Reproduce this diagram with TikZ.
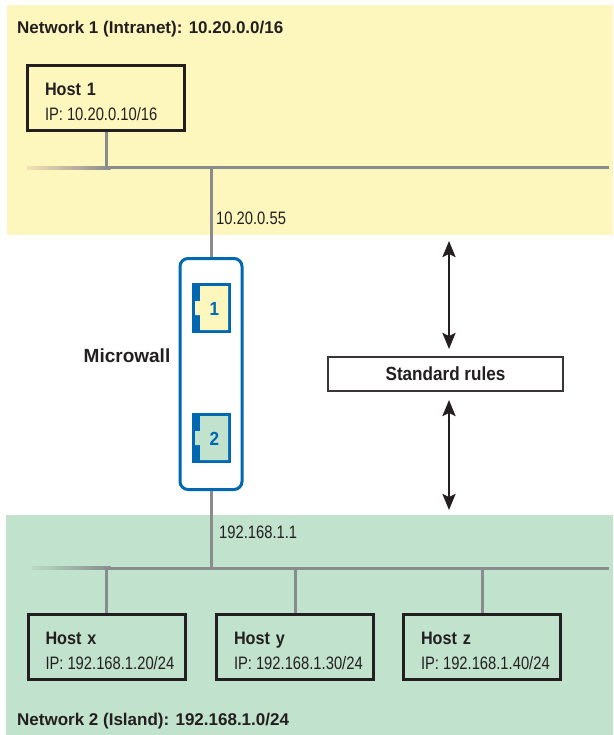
\documentclass[tikz,border=0pt]{standalone}
\usepackage{fontspec}
\setmainfont{Liberation Sans}
\newfontfamily\condfont{Liberation Sans}[FakeStretch=0.82]
\newfontfamily\bcondfont{Liberation Sans Bold}[FakeStretch=0.9]
\usetikzlibrary{arrows.meta,calc}
\definecolor{yel}{HTML}{FEF7BD}
\definecolor{grn}{HTML}{C1E2CC}
\definecolor{mwblue}{HTML}{0067B1}
\definecolor{netgray}{HTML}{898B8E}
\definecolor{ink}{HTML}{231F20}
\definecolor{fadeY}{HTML}{F5E2B4}
\definecolor{fadeG}{HTML}{B8D9C6}
\newcommand\mwport[4]{%
  \begin{scope}[shift={(#1,#2)}]
    \node[fill=mwblue, minimum width=39pt, minimum height=50pt, inner sep=0pt] (#4box) at (0,0) {};
    \fill[#3] (-11.5,-22) -- (16.5,-22) -- (16.5,22) -- (-11.5,22) -- (-11.5,7) -- (-16.5,7) -- (-16.5,-7) -- (-11.5,-7) -- cycle;
    \node[portdigit] (#4) at (3,1) {#4};
  \end{scope}}
\newcommand\hosttext[2]{{\bcondfont\fontsize{18}{20}\selectfont\rule{0pt}{20pt}#1}\\{\condfont\fontsize{18}{20}\selectfont\makebox[122pt][l]{IP:\kern4pt #2}}}
\begin{document}
\begin{tikzpicture}[x=1pt,y=-1pt,
  bus/.style={draw=netgray, line width=3pt},
  hostbox/.style={draw=ink, line width=3pt, minimum width=157pt, minimum height=65pt,
    inner sep=0pt, text width=122pt, align=left, text=ink, font=\fontsize{18}{25}\selectfont},
  boldlbl/.style={font=\bfseries\fontsize{17}{20}\selectfont, text=ink, inner sep=0pt},
  addrlbl/.style={font=\condfont\fontsize{18}{20}\selectfont, text=ink, inner sep=0pt, anchor=west},
  portdigit/.style={font=\bcondfont\fontsize{19}{20}\selectfont, text=mwblue, inner sep=0pt},
  dblarrow/.style={draw=ink, line width=2.5pt, {Stealth[length=16pt,width=13pt,inset=3pt]}-{Stealth[length=16pt,width=13pt,inset=3pt]}}
]
\useasboundingbox (0,0) rectangle (613,735);
% backgrounds
\fill[yel] (7,5) rectangle (613,235);
\fill[grn] (6,515) rectangle (613,735);

% network 1
\node[boldlbl, anchor=west] (net1lbl) at (17,29) {Network 1 (Intranet): 10.20.0.0/16};
\node[hostbox] (host1) at (106,98) {\hosttext{Host 1}{10.20.0.10/16}};
\coordinate (bus1L) at (27,168);
\coordinate (bus1F) at (110,168);
\coordinate (bus1R) at (609,168);
\shade[left color=fadeY, right color=netgray] ($(bus1L)+(0,-1.5)$) rectangle ($(bus1F)+(0.5,1.5)$);
\draw[bus] (bus1F) -- (bus1R);
\draw[bus] (host1.south) -- (host1.south |- bus1R);

% microwall
\node[draw=mwblue, line width=3pt, rounded corners=8pt, fill=white,
      minimum width=62pt, minimum height=231pt, inner sep=0pt] (mw) at (211,374) {};
\draw[bus] (mw.north) -- (mw.north |- bus1R);
\node[addrlbl] (addr1) at (216,218) {10.20.0.55};
\mwport{211.5}{308}{yel}{1}
\mwport{211.5}{438}{grn}{2}
\node[boldlbl, font=\bfseries\fontsize{19}{20}\selectfont] (mwlbl) at (127,356) {Microwall};

% standard rules
\node[draw=ink!90, line width=2pt, minimum width=235pt, minimum height=34pt, inner sep=0pt,
      font=\bcondfont\fontsize{19}{20}\selectfont, text=ink] (rules) at (445.5,374) {Standard rules};
\coordinate (upTop) at (449,241);
\coordinate (lowBot) at (449,510);
\draw[dblarrow] (upTop) -- ([yshift=7pt]rules.north -| upTop);
\draw[dblarrow] ([yshift=-8pt]rules.south -| lowBot) -- (lowBot);

% network 2
\coordinate (bus2L) at (32,568);
\coordinate (bus2F) at (110,568);
\coordinate (bus2R) at (609,568);
\shade[left color=fadeG, right color=netgray] ($(bus2L)+(0,-1.5)$) rectangle ($(bus2F)+(0.5,1.5)$);
\draw[bus] (bus2F) -- (bus2R);
\draw[bus] (mw.south) -- (mw.south |- bus2R);
\node[addrlbl] (addr2) at (219,532) {192.168.1.1};
\node[hostbox] (hostx) at (106.5,647) {\hosttext{Host x}{192.168.1.20/24}};
\node[hostbox] (hosty) at (295,647) {\hosttext{Host y}{192.168.1.30/24}};
\node[hostbox] (hostz) at (482,647) {\hosttext{Host z}{192.168.1.40/24}};
\draw[bus] (hostx.north) -- (hostx.north |- bus2R);
\draw[bus] (hosty.north) -- (hosty.north |- bus2R);
\draw[bus] (hostz.north) -- (hostz.north |- bus2R);
\node[boldlbl, anchor=west] (net2lbl) at (17,721) {Network 2 (Island): 192.168.1.0/24};
\end{tikzpicture}
\end{document}
